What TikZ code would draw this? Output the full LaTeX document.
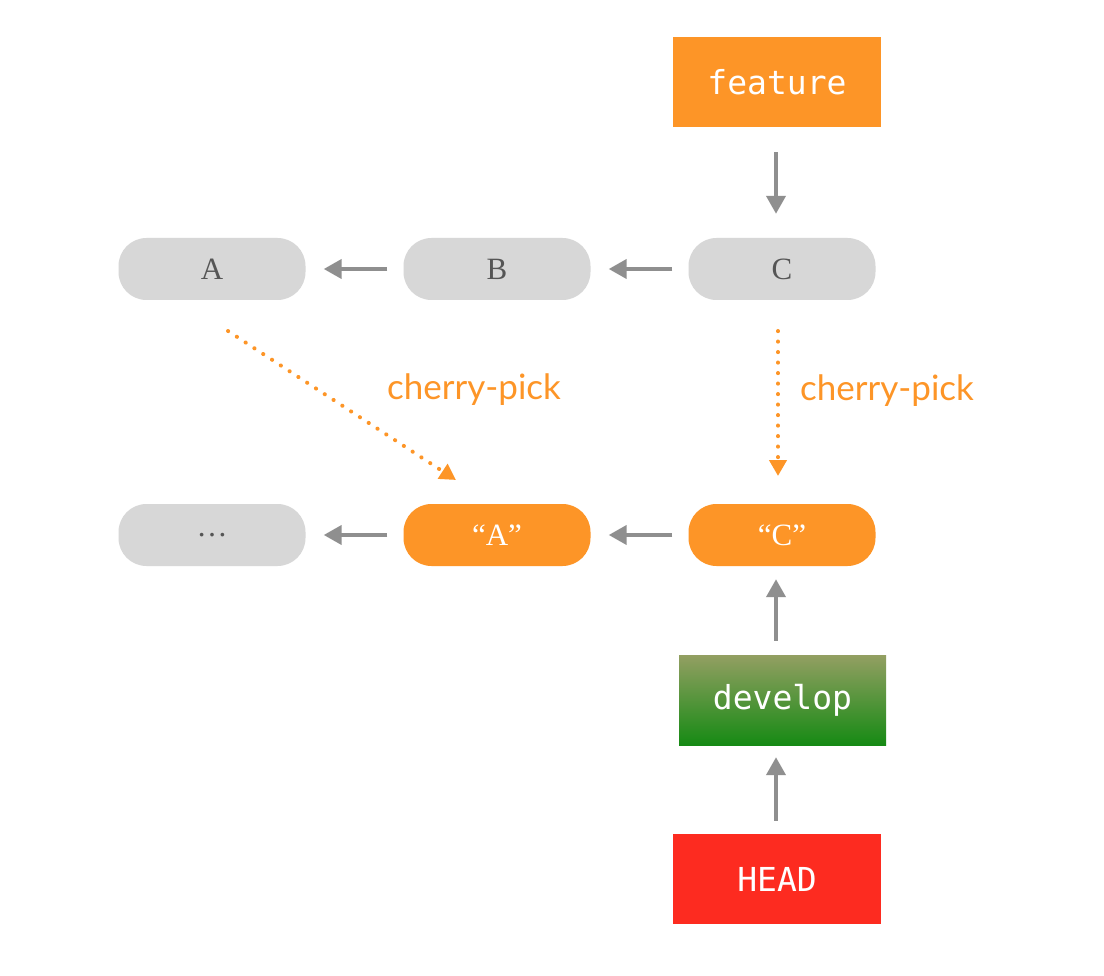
\documentclass[tikz,border=0pt]{standalone}
\usepackage{fontspec}
\setmainfont{Liberation Serif}
\newfontfamily\monof{DejaVu Sans Mono}
\newfontfamily\labf{Lato}
\usetikzlibrary{arrows.meta,calc}
\definecolor{orng}{HTML}{FD9527}
\definecolor{cgray}{HTML}{D7D7D7}
\definecolor{agray}{HTML}{8F8F8F}
\definecolor{tgray}{HTML}{555555}
\definecolor{hred}{HTML}{FD2B20}
\definecolor{gtop}{HTML}{939F62}
\definecolor{gbot}{HTML}{168A14}
\tikzset{
  commit/.style={rounded corners=28pt,minimum width=187pt,minimum height=62pt,inner sep=0pt,font=\fontsize{31}{33}\selectfont},
  gcommit/.style={commit,fill=cgray,text=tgray},
  ocommit/.style={commit,fill=orng,text=white},
  ref/.style={minimum width=208pt,minimum height=90pt,inner sep=0pt,text=white,font=\monof\fontsize{33}{35}\selectfont},
  parr/.style={draw=agray,line width=4pt,-{Triangle[length=18pt,width=19pt]}},
  cparr/.style={draw=orng,line width=4pt,line cap=round,dash pattern=on 0.2pt off 10.3pt,-{Triangle[length=16pt,width=17pt,line cap=butt]}},
  cplab/.style={text=orng,font=\labf\fontsize{35}{37}\selectfont,inner sep=0pt}
}
\begin{document}
\begin{tikzpicture}[x=1pt,y=-1pt]
\path[fill=white] (0,0) rectangle (1104,976);
\node[ref,fill=orng] (feature) at (777,82) {feature};
\node[gcommit] (A) at (212,269) {A};
\node[gcommit] (B) at (497,269) {B};
\node[gcommit] (C) at (782,269) {C};
\node[gcommit] (dots) at (212,535) {…};
\node[ocommit] (Aq) at (497,535) {“A”};
\node[ocommit] (Cq) at (782,535) {“C”};
\node[ref,top color=gtop,bottom color=gbot,minimum width=207pt] (develop) at (782.5,700) {develop};
\node[ref,fill=hred] (HEAD) at (777,879) {HEAD};
\node[cplab] (cp1) at (474,390) {cherry-pick};
\node[cplab] (cp2) at (887,391) {cherry-pick};
\coordinate (a1) at (228,331);
\coordinate (a2) at (456,480);
\coordinate (c1) at (778,331);
\coordinate (c2) at (778,476);
\draw[parr,shorten <=25pt,shorten >=24pt] (feature.south -| 776,0) -- (C.north -| 776,0);
\draw[parr,shorten <=16pt,shorten >=18pt] (B.west) -- (A.east);
\draw[parr,shorten <=16pt,shorten >=18pt] (C.west) -- (B.east);
\draw[parr,shorten <=16pt,shorten >=18pt] (Aq.west) -- (dots.east);
\draw[parr,shorten <=16pt,shorten >=18pt] (Cq.west) -- (Aq.east);
\draw[parr,shorten <=14pt,shorten >=13pt] (develop.north -| 776,0) -- (Cq.south -| 776,0);
\draw[parr,shorten <=13pt,shorten >=12pt] (HEAD.north -| 776,0) -- (develop.south -| 776,0);
\draw[cparr] (a1) -- (a2);
\draw[cparr] (c1) -- (c2);
\end{tikzpicture}
\end{document}
